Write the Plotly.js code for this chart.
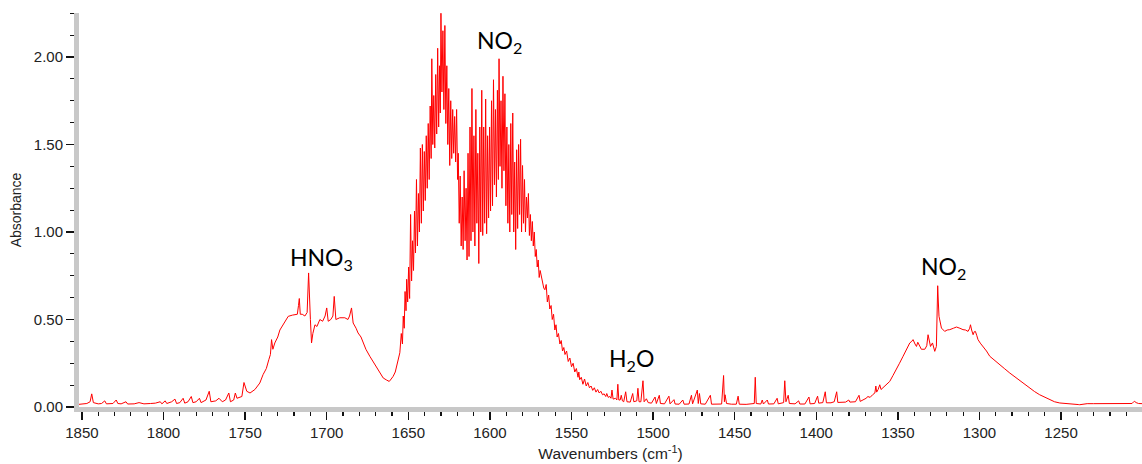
<!DOCTYPE html>
<html>
<head>
<meta charset="utf-8">
<script src="https://cdn.plot.ly/plotly-3.0.1.min.js"></script>
<style>html,body{margin:0;padding:0;background:#fff;}#chart{width:1142px;height:464px;}</style>
</head>
<body>
<div id="chart"></div>
<script>
// [wavenumber (cm-1), absorbance], segment by segment
const baselineHigh = [
[1852,0.015],[1849,0.016],[1847,0.02],[1845,0.03],[1844,0.075],[1843,0.025],[1840,0.018],[1838,0.02],[1836,0.035],[1835,0.018],
[1831,0.02],[1829,0.04],[1828,0.02],[1826,0.018],[1823,0.03],[1822,0.017],[1818,0.018],[1815,0.025],[1812,0.018],[1808,0.02],
[1805,0.022],[1802,0.03],[1801,0.018],[1799,0.035],[1798,0.02],[1795,0.03],[1793,0.045],[1792,0.02],[1790,0.025],[1788,0.05],
[1787,0.022],[1785,0.03],[1783,0.06],[1782,0.025],[1780,0.03],[1778,0.05],[1777,0.025],[1774,0.04],[1772,0.09],[1771,0.03],
[1768,0.035],[1766,0.05],[1764,0.03],[1762,0.04],[1760,0.08],[1759,0.03],[1757,0.04],[1756,0.08],[1755,0.05],[1752,0.06]
];
const hno3Band = [
[1750.7,0.14],[1749,0.09],[1747,0.08],[1744,0.1],[1741,0.137],[1739,0.185],[1737,0.22],[1735.5,0.27],[1734.5,0.3],[1733.8,0.385],
[1733,0.33],[1731.8,0.366],[1730,0.4],[1728.7,0.44],[1726,0.48],[1723.6,0.518],[1721,0.525],[1719.5,0.527],[1718,0.53],[1717.3,0.58],
[1716.8,0.62],[1716.2,0.53],[1715,0.53],[1713.4,0.52],[1712,0.54],[1711.1,0.766],[1710.6,0.56],[1710,0.5],[1709.3,0.366],[1708.5,0.42],
[1707.2,0.47],[1706,0.46],[1704.2,0.5],[1702.5,0.49],[1701,0.52],[1700,0.566],[1699.1,0.49],[1697.5,0.5],[1696.2,0.52],[1695.4,0.632],
[1694.4,0.5],[1692,0.51],[1690,0.51],[1688.9,0.51],[1687,0.5],[1686,0.52],[1684.8,0.566],[1683.8,0.48],[1682,0.45],[1680.8,0.423],
[1679,0.4],[1677.7,0.366],[1676,0.33],[1673.6,0.29],[1671.5,0.26],[1669.5,0.232],[1667.5,0.2],[1665.4,0.166],[1663.5,0.155],[1661.7,0.146],
[1660.5,0.16],[1659.3,0.175],[1658,0.2],[1657.2,0.232],[1656.2,0.27],[1655.2,0.31],[1654.3,0.42],[1653.6,0.36],[1653.1,0.52],[1652.5,0.45]
];
const no2Band = [
[1652.0,0.66],[1651.4,0.55],[1651.0,0.73],[1650.4,0.6],[1649.8,0.8],[1649.2,0.62],[1648.6,1.1],[1648.0,0.72],[1647.4,0.95],[1646.8,0.78],
[1646.2,1.12],[1645.6,0.88],[1645.0,1.3],[1644.4,0.92],[1643.8,1.22],[1643.2,1.0],[1642.6,1.48],[1642.0,1.05],[1641.4,1.5],[1640.8,1.12],
[1640.2,1.46],[1639.6,1.18],[1639.0,1.55],[1638.4,1.25],[1637.8,1.62],[1637.2,1.3],[1636.6,1.72],[1636.0,1.42],[1635.6,1.99],[1635.0,1.5],
[1634.4,1.78],[1633.8,1.48],[1633.2,1.9],[1632.6,1.56],[1632.0,2.05],[1631.4,1.6],[1630.8,1.95],[1630.4,1.68],[1630.0,2.25],[1629.4,1.8],
[1628.8,2.15],[1628.2,1.7],[1627.6,2.18],[1627.0,1.62],[1626.4,1.95],[1625.8,1.5],[1625.2,1.82],[1624.6,1.38],[1624.0,1.75],[1623.4,1.42],
[1622.8,1.7],[1622.2,1.45],[1621.6,1.66],[1621.0,1.4],[1620.4,1.7],[1619.8,1.3],[1619.4,1.45],[1618.8,1.05],[1618.2,1.32],[1617.6,0.92],
[1617.0,1.2],[1616.4,0.9],[1615.8,1.35],[1615.2,0.95],[1614.6,1.25],[1614.0,0.84],[1613.4,1.45],[1612.8,0.86],[1612.2,1.6],[1611.6,0.95],
[1611.0,1.82],[1610.4,1.0],[1609.8,1.55],[1609.2,0.92],[1608.6,1.7],[1608.0,1.05],[1607.4,1.45],[1606.8,0.82],[1606.2,1.6],[1605.6,1.0],
[1605.0,1.81],[1604.4,0.98],[1603.8,1.6],[1603.2,1.05],[1602.6,1.76],[1602.0,0.99],[1601.4,1.55],[1600.8,1.08],[1600.2,1.6],[1599.6,1.12],
[1599.0,1.75],[1598.4,1.15],[1597.8,1.87],[1597.2,1.27],[1596.6,1.7],[1596.0,1.2],[1595.4,1.81],[1594.8,1.3],[1594.4,1.99],[1593.8,1.375],
[1593.2,1.75],[1592.6,1.25],[1592.0,1.89],[1591.4,1.35],[1590.8,1.79],[1590.2,1.15],[1589.6,1.6],[1589.0,1.05],[1588.4,1.5],[1587.8,1.0],
[1587.2,1.62],[1586.6,1.1],[1586.0,1.68],[1585.4,1.0],[1584.8,1.4],[1584.2,0.9],[1583.6,1.47],[1583.0,1.02],[1582.4,1.5],[1581.8,1.1],
[1581.2,1.53],[1580.6,1.0],[1580.0,1.38],[1579.4,1.05],[1578.8,1.3],[1578.2,1.0],[1577.6,1.2],[1577.0,1.08],[1576.4,1.22],[1575.8,0.98],
[1575.2,1.1],[1574.6,0.95],[1574.0,1.06],[1573.4,0.92],[1572.8,1.0],[1572.2,0.86],[1571.6,0.9],[1571.0,0.8],[1570.4,0.84],[1569.8,0.74],
[1569.2,0.78]
];
const no2Tail = [
[1568,0.72],[1567,0.68],[1566.3,0.67],[1565.5,0.7],[1564.8,0.6],[1564,0.64],[1563.3,0.56],[1562.5,0.58],[1561.8,0.5],[1561,0.53],
[1560.2,0.44],[1559.5,0.47],[1558.8,0.4],[1558,0.42],[1557.1,0.36],[1556.3,0.38],[1555.5,0.32],[1554.7,0.34],[1554,0.3],[1553,0.32],
[1552,0.26],[1551,0.28],[1550,0.23],[1549,0.25],[1548,0.2],[1547,0.22],[1546,0.17],[1545.5,0.2],[1545,0.156],[1544,0.17],
[1543,0.13],[1542,0.16],[1541,0.12],[1540,0.14],[1539,0.11],[1538,0.12],[1537,0.095],[1536,0.11],[1535,0.085],[1534,0.1],
[1533,0.08],[1532,0.09],[1531,0.07],[1530,0.075],[1529,0.06],[1528.4,0.077],[1527.5,0.055],[1526.5,0.06],[1525.8,0.05],[1525.2,0.097],
[1524.5,0.045],[1523,0.05],[1522.2,0.04],[1521.6,0.13],[1521,0.04],[1520.2,0.04],[1519.5,0.067],[1518.8,0.035]
];
const waterRegion = [
[1518,0.03],[1516.8,0.087],[1516,0.03],[1514,0.028],[1512.5,0.077],[1511.8,0.03],[1510,0.035],[1509.3,0.107],[1508.6,0.03],[1507.5,0.03],
[1506.2,0.15],[1505.5,0.03],[1504.1,0.047],[1503,0.025],[1501,0.022],[1498.8,0.057],[1498,0.02],[1496.2,0.067],[1495.5,0.02],[1493,0.018],
[1490.3,0.062],[1489.6,0.018],[1487.2,0.042],[1486.5,0.017],[1484,0.016],[1481.8,0.04],[1481,0.016],[1478,0.017],[1476.5,0.067],[1475.8,0.018],
[1472.9,0.097],[1472.3,0.02],[1471.6,0.077],[1470.8,0.018],[1468,0.016],[1464.9,0.067],[1464.2,0.016],[1461,0.015],[1458,0.017],[1456.8,0.18],
[1456.3,0.03],[1455.9,0.07],[1455,0.02],[1452,0.016],[1449,0.016],[1447.9,0.062],[1447.2,0.016],[1443,0.015],[1440,0.016],[1438,0.02],
[1437.4,0.17],[1436.8,0.02],[1434,0.017],[1433.1,0.04],[1432.4,0.017],[1430,0.04],[1429.3,0.017],[1426,0.018],[1424,0.05],[1423.3,0.018],
[1420,0.025],[1419.3,0.15],[1418.6,0.03],[1417.2,0.067],[1416.5,0.02],[1413,0.018],[1410.8,0.035],[1410.1,0.017],[1407,0.017],[1404.5,0.057],
[1403.8,0.018],[1401,0.02],[1399.2,0.062],[1398.5,0.022],[1396,0.025],[1394.5,0.087],[1393.8,0.024],[1391,0.024],[1389,0.03],[1387.5,0.087],
[1386.8,0.026],[1384,0.026],[1382,0.028],[1380.1,0.04],[1379.4,0.028],[1376,0.03],[1373.8,0.067],[1373.1,0.032]
];
const no2LowBand = [
[1371,0.04],[1369.2,0.051],[1368.5,0.06],[1367,0.055],[1365.5,0.07],[1364.1,0.08],[1363.5,0.12],[1363,0.085],[1362.1,0.1],[1361.1,0.127],
[1360.3,0.1],[1358,0.12],[1355,0.146],[1353,0.18],[1350.9,0.213],[1349,0.25],[1346.8,0.29],[1344.7,0.33],[1342.7,0.366],[1341.5,0.375],
[1340.7,0.385],[1339.5,0.36],[1338.6,0.346],[1337.8,0.37],[1337,0.356],[1335.6,0.33],[1333.5,0.33],[1332.3,0.35],[1331.5,0.413],[1330.8,0.37],
[1330,0.346],[1328.8,0.366],[1327.4,0.318],[1326.4,0.346],[1325.9,0.55],[1325.6,0.693],[1325.2,0.6],[1324.8,0.518],[1323.3,0.451],[1321.3,0.432],
[1319.8,0.44],[1318.2,0.442],[1316,0.45],[1314.1,0.457],[1312,0.45],[1310.1,0.442],[1308.5,0.44],[1307,0.432],[1306,0.45],[1305.5,0.47],
[1304.8,0.44],[1303.9,0.413],[1303.2,0.43],[1302.5,0.432],[1301.7,0.41],[1300.9,0.385],[1299.5,0.365],[1297.8,0.346],[1295.7,0.32],[1293.7,0.29],
[1290.7,0.265],[1287.6,0.242],[1284.5,0.218],[1281.4,0.194],[1278.3,0.172],[1275.3,0.152],[1272.2,0.13],[1269.2,0.109],[1266.2,0.088],[1263.1,0.07],
[1260,0.055],[1256.9,0.042],[1254,0.03],[1250.8,0.023],[1246,0.02],[1241,0.019],[1239.5,0.014],[1238.6,0.013],[1237,0.016],[1234,0.019],
[1230,0.019],[1220,0.019],[1210,0.019],[1206.5,0.02],[1205.5,0.03],[1204.9,0.032],[1204,0.025],[1202.5,0.02],[1200,0.019]
];

const peakLabels = ['HNO<sub>3</sub>', 'NO<sub>2</sub>', 'H<sub>2</sub>O', 'NO<sub>2</sub>'];
const peakLabelX = [1703, 1594, 1513.5, 1322];
const peakLabelY = [0.85, 2.09, 0.27, 0.80];

const xTickVals = [1850, 1800, 1750, 1700, 1650, 1600, 1550, 1500, 1450, 1400, 1350, 1300, 1250];
const yTickVals = [0, 0.5, 1.0, 1.5, 2.0];

const spectrum = [].concat(baselineHigh, hno3Band, no2Band, no2Tail, waterRegion, no2LowBand);
const wavenumbers = spectrum.map(p => p[0]);
const absorbance = spectrum.map(p => p[1]);

const trace = {
  x: wavenumbers, y: absorbance, type: 'scatter', mode: 'lines',
  line: {color: '#ff0000', width: 1}, hoverinfo: 'skip'
};

const axisFont = {family: 'Liberation Sans, Arial, sans-serif', size: 15, color: '#222'};

const layout = {
  width: 1142, height: 464,
  margin: {l: 79, r: 0, t: 13, b: 57},
  paper_bgcolor: '#ffffff', plot_bgcolor: '#ffffff',
  showlegend: false,
  xaxis: {
    range: [1851.8, 1200.4],
    tickvals: xTickVals,
    ticktext: xTickVals.map(String),
    ticks: 'outside', ticklen: 8, tickwidth: 1.5, tickcolor: '#111',
    minor: {dtick: 10, tick0: 0, ticks: 'outside', ticklen: 4, tickwidth: 1.2, tickcolor: '#111', showgrid: false},
    showline: true, linecolor: '#c8c8c8', linewidth: 5,
    showgrid: false, zeroline: false,
    tickfont: axisFont,
    title: {text: 'Wavenumbers (cm<sup>-1</sup>)', font: {family: 'Liberation Sans, Arial, sans-serif', size: 15.5, color: '#222'}, standoff: 10}
  },
  yaxis: {
    range: [0, 2.2514],
    tickvals: yTickVals,
    tickformat: '.2f',
    ticks: 'outside', ticklen: 8, tickwidth: 1.5, tickcolor: '#111',
    minor: {dtick: 0.125, tick0: 0, ticks: 'outside', ticklen: 4, tickwidth: 1.2, tickcolor: '#111', showgrid: false},
    showline: true, linecolor: '#c8c8c8', linewidth: 5,
    showgrid: false, zeroline: false,
    tickfont: axisFont,
    title: {text: 'Absorbance', font: {family: 'Liberation Sans, Arial, sans-serif', size: 14, color: '#222'}, standoff: 10}
  },
  annotations: peakLabels.map((t, i) => ({
    x: peakLabelX[i], y: peakLabelY[i], xref: 'x', yref: 'y',
    text: t, showarrow: false,
    font: {family: 'Lato, Open Sans, sans-serif', size: 23, color: '#000'}
  }))
};

Plotly.newPlot('chart', [trace], layout, {displayModeBar: false, staticPlot: true});
</script>
</body>
</html>
